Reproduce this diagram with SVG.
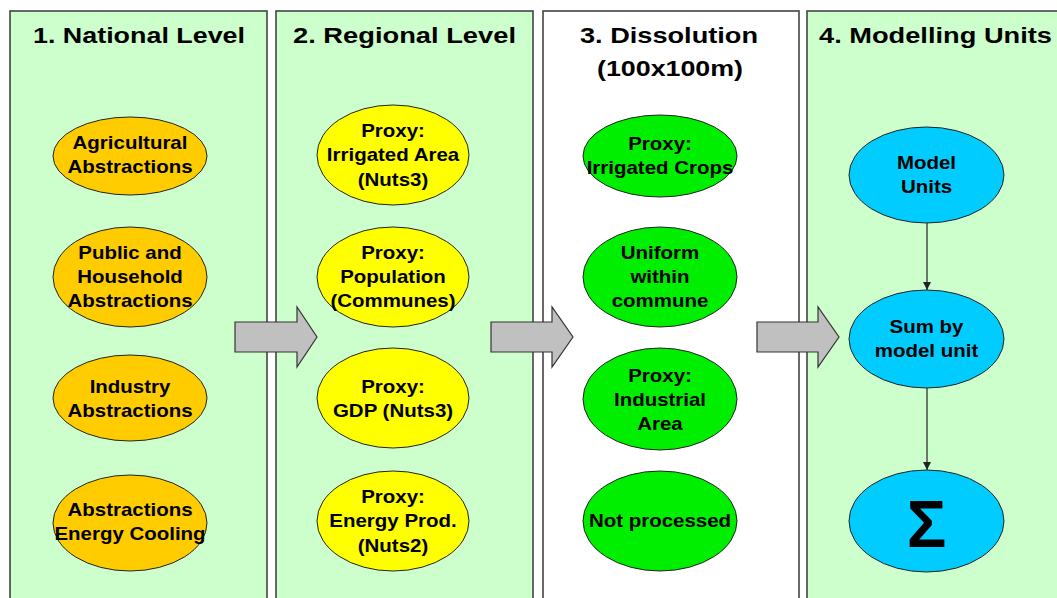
<svg xmlns="http://www.w3.org/2000/svg" width="1057" height="598" viewBox="0 0 1057 598">
<defs>
<style>
.col{fill:#ccffcc;stroke:#444;stroke-width:1.6}
.colw{fill:#ffffff;stroke:#444;stroke-width:1.6}
.title{font-family:"Liberation Sans",Arial,sans-serif;font-weight:bold;font-size:22.5px;fill:#000;text-anchor:middle}
.t{font-family:"Liberation Sans",Arial,sans-serif;font-weight:bold;font-size:17.5px;fill:#000;text-anchor:middle}
.e{stroke:#222;stroke-width:1}
.or{fill:#ffcc00}
.ye{fill:#ffff00}
.gr{fill:#00ee00}
.cy{fill:#00ccff}
.blk{fill:#c0c0c0;stroke:#333;stroke-width:1.2}
.conn{stroke:#222;stroke-width:1.2;fill:none}
</style>
<marker id="ah" viewBox="0 0 10 10" refX="10" refY="5" markerWidth="8" markerHeight="8" markerUnits="userSpaceOnUse" orient="auto"><path d="M0,0 L10,5 L0,10 z" fill="#222"/></marker>
</defs>
<rect width="1057" height="598" fill="#ffffff"/>

<g id="columns">
<rect class="col" x="10" y="11" width="257" height="600"/>
<rect class="col" x="276" y="11" width="257" height="600"/>
<rect class="colw" x="543" y="11" width="256" height="600"/>
<rect class="col" x="807" y="11" width="270" height="600"/>
<text class="title" x="139" y="43" textLength="212" lengthAdjust="spacingAndGlyphs">1. National Level</text>
<text class="title" x="404.5" y="43" textLength="223" lengthAdjust="spacingAndGlyphs">2. Regional Level</text>
<text class="title" x="669" y="43" textLength="178" lengthAdjust="spacingAndGlyphs">3. Dissolution</text>
<text class="title" x="670" y="76" textLength="146" lengthAdjust="spacingAndGlyphs">(100x100m)</text>
<text class="title" x="935.5" y="43" textLength="233" lengthAdjust="spacingAndGlyphs">4. Modelling Units</text>
</g>

<g id="block-arrows">
<polygon class="blk" points="235,322 297,322 297,307 317,337 297,367 297,352 235,352"/>
<polygon class="blk" points="491,322 552,322 552,307 573,337 552,367 552,352 491,352"/>
<polygon class="blk" points="757,322 818,322 818,307 839,337 818,367 818,352 757,352"/>
</g>

<g id="n-agri" transform="translate(130,156)"><ellipse class="e or" rx="77" ry="39"/><text class="t" transform="scale(1.17,1)"><tspan x="0" y="-7">Agricultural</tspan><tspan x="0" y="17">Abstractions</tspan></text></g>
<g id="n-public" transform="translate(130,277)"><ellipse class="e or" rx="77" ry="50"/><text class="t" transform="scale(1.17,1)"><tspan x="0" y="-18">Public and</tspan><tspan x="0" y="6">Household</tspan><tspan x="0" y="30">Abstractions</tspan></text></g>
<g id="n-industry" transform="translate(130,398)"><ellipse class="e or" rx="77" ry="43"/><text class="t" transform="scale(1.17,1)"><tspan x="0" y="-5">Industry</tspan><tspan x="0" y="19">Abstractions</tspan></text></g>
<g id="n-energy" transform="translate(130,523)"><ellipse class="e or" rx="77" ry="48"/><text class="t" transform="scale(1.17,1)"><tspan x="0" y="-7">Abstractions</tspan><tspan x="0" y="17">Energy Cooling</tspan></text></g>

<g id="n-p-irr" transform="translate(393,155)"><ellipse class="e ye" rx="76" ry="50"/><text class="t" transform="scale(1.17,1)"><tspan x="0" y="-18">Proxy:</tspan><tspan x="0" y="6">Irrigated Area</tspan><tspan x="0" y="31">(Nuts3)</tspan></text></g>
<g id="n-p-pop" transform="translate(393,277)"><ellipse class="e ye" rx="76" ry="50"/><text class="t" transform="scale(1.17,1)"><tspan x="0" y="-18">Proxy:</tspan><tspan x="0" y="6">Population</tspan><tspan x="0" y="30">(Communes)</tspan></text></g>
<g id="n-p-gdp" transform="translate(393,398)"><ellipse class="e ye" rx="76" ry="50"/><text class="t" transform="scale(1.17,1)"><tspan x="0" y="-5">Proxy:</tspan><tspan x="0" y="19">GDP (Nuts3)</tspan></text></g>
<g id="n-p-energy" transform="translate(393,521)"><ellipse class="e ye" rx="76" ry="50"/><text class="t" transform="scale(1.17,1)"><tspan x="0" y="-18">Proxy:</tspan><tspan x="0" y="6">Energy Prod.</tspan><tspan x="0" y="31">(Nuts2)</tspan></text></g>

<g id="n-d-irr" transform="translate(660,156)"><ellipse class="e gr" rx="77" ry="41"/><text class="t" transform="scale(1.17,1)"><tspan x="0" y="-6">Proxy:</tspan><tspan x="0" y="18">Irrigated Crops</tspan></text></g>
<g id="n-d-uni" transform="translate(660,277)"><ellipse class="e gr" rx="77" ry="50"/><text class="t" transform="scale(1.17,1)"><tspan x="0" y="-18">Uniform</tspan><tspan x="0" y="6">within</tspan><tspan x="0" y="30">commune</tspan></text></g>
<g id="n-d-ind" transform="translate(660,399)"><ellipse class="e gr" rx="77" ry="51"/><text class="t" transform="scale(1.17,1)"><tspan x="0" y="-17">Proxy:</tspan><tspan x="0" y="7">Industrial</tspan><tspan x="0" y="31">Area</tspan></text></g>
<g id="n-d-not" transform="translate(660,521)"><ellipse class="e gr" rx="77" ry="50"/><text class="t" transform="scale(1.17,1)"><tspan x="0" y="6">Not processed</tspan></text></g>

<g id="connectors">
<line class="conn" x1="927" y1="223" x2="927" y2="290" marker-end="url(#ah)"/>
<line class="conn" x1="927" y1="388" x2="927" y2="470" marker-end="url(#ah)"/>
</g>

<g id="n-model" transform="translate(926.5,175)"><ellipse class="e cy" rx="77.5" ry="48"/><text class="t" transform="scale(1.17,1)"><tspan x="0" y="-6">Model</tspan><tspan x="0" y="18">Units</tspan></text></g>
<g id="n-sum" transform="translate(926.5,339)"><ellipse class="e cy" rx="77.5" ry="49"/><text class="t" transform="scale(1.17,1)"><tspan x="0" y="-6">Sum by</tspan><tspan x="0" y="18">model unit</tspan></text></g>
<g id="n-sigma" transform="translate(926.5,521)"><ellipse class="e cy" rx="77.5" ry="51"/><text class="t" style="font-size:66px" x="0" y="26">Σ</text></g>
</svg>
